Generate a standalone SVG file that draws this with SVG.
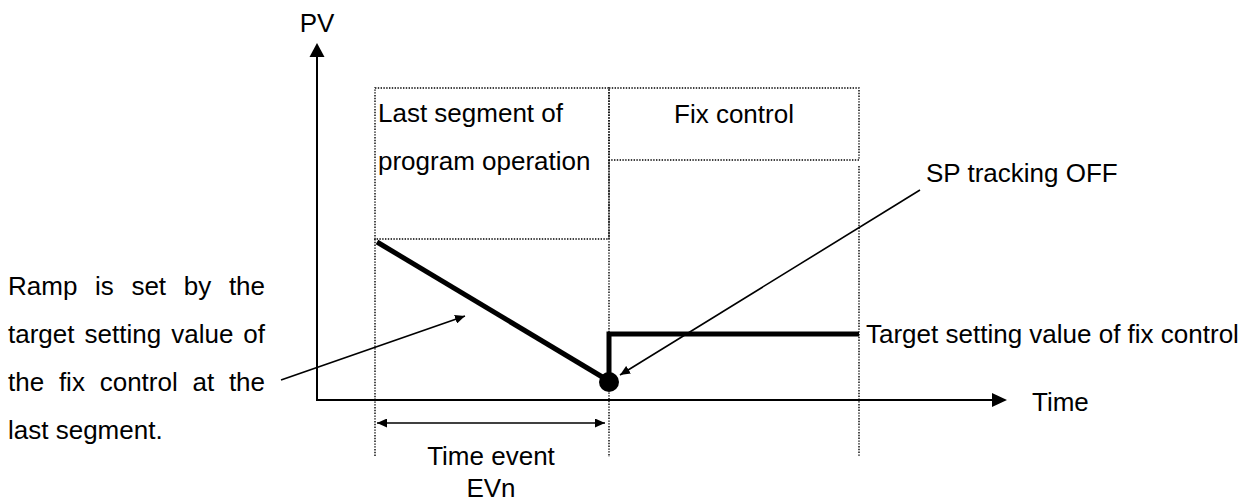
<svg xmlns="http://www.w3.org/2000/svg" width="1259" height="501" viewBox="0 0 1259 501">
<style>
text{font-family:"Liberation Sans",Arial,sans-serif;font-size:26px;fill:#000}
.dot{fill:none;stroke:#000;stroke-width:1.4;stroke-dasharray:1.4 1.4}
.axis{stroke:#000;stroke-width:2;fill:none}
.thick{stroke:#000;stroke-width:5;fill:none}
.lead{stroke:#000;stroke-width:1.6;fill:none}
</style>
<defs>
<marker id="ahs" viewBox="0 0 10 9" refX="10" refY="4.5" markerWidth="10" markerHeight="9" markerUnits="userSpaceOnUse" orient="auto-start-reverse"><path d="M0,0 L10,4.5 L0,9 Z" fill="#000"/></marker>
</defs>
<g id="axes">
<line class="axis" x1="317" y1="400" x2="317" y2="56"/>
<path d="M309.5,57 L317,43 L324.5,57 Z" fill="#000"/>
<line class="axis" x1="316" y1="400" x2="993" y2="400"/>
<path d="M992,393 L1007,400 L992,407 Z" fill="#000"/>
<text x="317" y="32" text-anchor="middle">PV</text>
<text x="1032" y="411">Time</text>
</g>
<g id="box-last">
<rect class="dot" x="375" y="88" width="234" height="151"/>
<text x="378" y="122">Last segment of</text>
<text x="378" y="170">program operation</text>
</g>
<g id="box-fix">
<rect class="dot" x="609" y="88" width="250" height="72"/>
<text x="734" y="123" text-anchor="middle">Fix control</text>
</g>
<g id="guides">
<line class="dot" x1="375" y1="239" x2="375" y2="457"/>
<line class="dot" x1="609" y1="160" x2="609" y2="457"/>
<line class="dot" x1="859" y1="166" x2="859" y2="457"/>
</g>
<g id="trend">
<line class="thick" x1="377" y1="242" x2="609" y2="381"/>
<polyline class="thick" points="609,381 609,334 859,334"/>
<circle cx="609" cy="382" r="10" fill="#000"/>
</g>
<g id="label-target">
<text x="866" y="343">Target setting value of fix control</text>
</g>
<g id="label-sp">
<text x="926" y="182">SP tracking OFF</text>
</g>
<g id="label-ramp">
<text y="295"><tspan x="8">Ramp</tspan><tspan x="95">is</tspan><tspan x="131.4">set</tspan><tspan x="183.8">by</tspan><tspan x="228.9">the</tspan></text>
<text y="343"><tspan x="8">target</tspan><tspan x="84.5">setting</tspan><tspan x="171.2">value</tspan><tspan x="243.3">of</tspan></text>
<text y="391"><tspan x="8">the</tspan><tspan x="58.9">fix</tspan><tspan x="99.7">control</tspan><tspan x="192.5">at</tspan><tspan x="228.9">the</tspan></text>
<text x="8" y="439">last segment.</text>
</g>
<g id="label-event">
<text x="491" y="465" text-anchor="middle">Time event</text>
<text x="491" y="497" text-anchor="middle">EVn</text>
</g>
<g id="connectors">
<line class="lead" x1="281" y1="380" x2="465" y2="316" marker-end="url(#ahs)"/>
<line class="lead" x1="920" y1="190" x2="620" y2="375" marker-end="url(#ahs)"/>
<line class="lead" x1="377" y1="423" x2="605" y2="423" marker-start="url(#ahs)" marker-end="url(#ahs)"/>
</g>
</svg>
